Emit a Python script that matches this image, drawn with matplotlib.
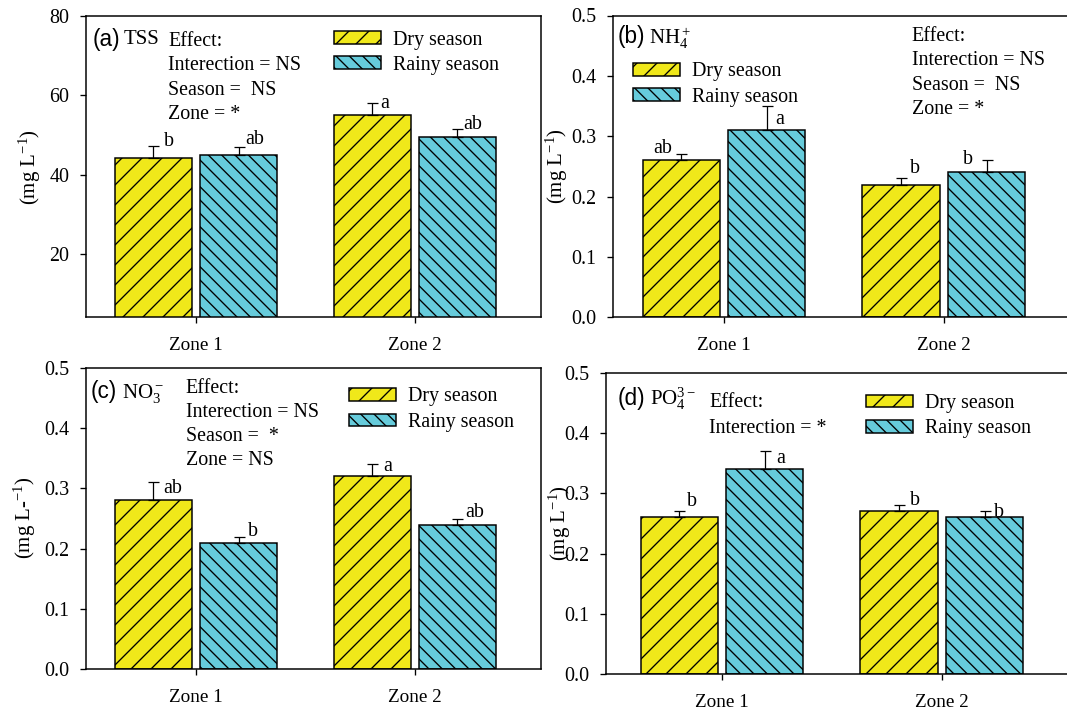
import matplotlib.pyplot as plt
import matplotlib.transforms as mtransforms
import numpy as np

# output size in pixels
W, H, DPI = 1067, 713, 120

zones = ["Zone 1", "Zone 2"]
seasons = ["Dry season", "Rainy season"]

# (a) TSS
tss_dry = [44.3, 55.0]
tss_dry_err = [3.0, 3.1]
tss_rainy = [45.0, 49.5]
tss_rainy_err = [2.0, 1.9]
tss_letters = [["b", "a"], ["ab", "ab"]]

# (b) NH4+
nh4_dry = [0.26, 0.22]
nh4_dry_err = [0.01, 0.01]
nh4_rainy = [0.31, 0.24]
nh4_rainy_err = [0.04, 0.02]
nh4_letters = [["ab", "b"], ["a", "b"]]

# (c) NO3-
no3_dry = [0.28, 0.32]
no3_dry_err = [0.03, 0.02]
no3_rainy = [0.21, 0.24]
no3_rainy_err = [0.01, 0.01]
no3_letters = [["ab", "a"], ["b", "ab"]]

# (d) PO4 3-
po4_dry = [0.26, 0.27]
po4_dry_err = [0.01, 0.01]
po4_rainy = [0.34, 0.26]
po4_rainy_err = [0.03, 0.01]
po4_letters = [["b", "b"], ["a", "b"]]

YELLOW = "#F0E81A"
CYAN = "#66CBDB"

plt.rcParams["font.family"] = ["Liberation Serif", "DejaVu Serif"]
plt.rcParams["mathtext.fontset"] = "custom"
plt.rcParams["mathtext.rm"] = "Liberation Serif"
plt.rcParams["mathtext.it"] = "Liberation Serif:italic"
plt.rcParams["hatch.linewidth"] = 0.8

fig = plt.figure(figsize=(W / DPI, H / DPI), dpi=DPI)
# transform: image pixels measured from the top-left corner
PX = mtransforms.Affine2D().scale(1.0 / W, -1.0 / H).translate(0, 1) + fig.transFigure

panels = [
    dict(tag="(a)", name="TSS", dry=tss_dry, dry_err=tss_dry_err, rainy=tss_rainy,
         rainy_err=tss_rainy_err, letters=tss_letters,
         box=(86, 16, 541, 317.3), xlim=(0.497, 2.577), ylim=(4, 80),
         yticks=[20, 40, 60, 80], yfmt="{:.0f}",
         tag_xy=(92.7, 45.7), name_xy=(123.3, 44.5),
         effect=["Effect:", "Interection = NS", "Season =  NS", "Zone = *"],
         effect_xy=(168.3, 45.7), effect_step=24.5,
         legend_xy=(334, 38.5), ylabel="(mg L$^{-1}$)", ylabel_xy=(30, 167.5),
         offs=[[(10, 0, "left"), (8.5, -5, "left")], [(6.5, 3, "left"), (6, 0, "left")]]),
    dict(tag="(b)", name="NH$_4^+$", dry=nh4_dry, dry_err=nh4_dry_err, rainy=nh4_rainy,
         rainy_err=nh4_rainy_err, letters=nh4_letters,
         box=(613, 15.5, 1070.6, 317.3), xlim=(0.495, 2.577), ylim=(0, 0.5),
         yticks=[0, 0.1, 0.2, 0.3, 0.4, 0.5], yfmt="{:.1f}",
         tag_xy=(617.3, 43.5), name_xy=(649.3, 44.3),
         effect=["Effect:", "Interection = NS", "Season =  NS", "Zone = *"],
         effect_xy=(911.7, 40.7), effect_step=24.4,
         legend_xy=(633.3, 70.2), ylabel="(mg L$^{-1}$)", ylabel_xy=(556.7, 166.5),
         offs=[[(-9, 1, "right"), (9, 5, "left")], [(9, -18, "left"), (-14, -4, "right")]]),
    dict(tag="(c)", name="NO$_3^-$", dry=no3_dry, dry_err=no3_dry_err, rainy=no3_rainy,
         rainy_err=no3_rainy_err, letters=no3_letters,
         box=(86, 367.7, 541, 669.3), xlim=(0.497, 2.577), ylim=(0, 0.5),
         yticks=[0, 0.1, 0.2, 0.3, 0.4, 0.5], yfmt="{:.1f}",
         tag_xy=(90.7, 398.3), name_xy=(121.7, 398.3),
         effect=["Effect:", "Interection = NS", "Season =  *", "Zone = NS"],
         effect_xy=(185.7, 392.7), effect_step=24.1,
         legend_xy=(349, 395.5), ylabel="(mg L-$^{-1}$)", ylabel_xy=(25, 518),
         offs=[[(9.7, -10.6, "left"), (10.6, -7, "left")], [(9.5, 1, "left"), (8, 1, "left")]]),
    dict(tag="(d)", name="PO$_4^{3-}$", dry=po4_dry, dry_err=po4_dry_err, rainy=po4_rainy,
         rainy_err=po4_rainy_err, letters=po4_letters,
         box=(606, 372.7, 1068.7, 674.3), xlim=(0.472, 2.577), ylim=(0, 0.5),
         yticks=[0, 0.1, 0.2, 0.3, 0.4, 0.5], yfmt="{:.1f}",
         tag_xy=(617.3, 405), name_xy=(650, 405),
         effect=["Effect:", "Interection = *"],
         effect_xy=(709, 407.3), effect_step=25.7,
         legend_xy=(865.7, 402), ylabel="(mg L$^{-1}$)", ylabel_xy=(560, 523),
         offs=[[(8, 5, "left"), (11.3, 0, "left")], [(11.7, -11.6, "left"), (9.7, -6, "left")]]),
]

bw = 0.352
off = 0.1945
x = np.arange(1, len(zones) + 1)

for p in panels:
    l, t, r, b = p["box"]
    ax = fig.add_axes([l / W, 1 - b / H, (r - l) / W, (b - t) / H])

    series = [(p["dry"], p["dry_err"], YELLOW, "//", -off, seasons[0]),
              (p["rainy"], p["rainy_err"], CYAN, "\\\\\\", off, seasons[1])]
    for k, (vals, errs, col, hatch, dx, lab) in enumerate(series):
        ax.bar(x + dx, vals, bw, color=col, edgecolor="black", hatch=hatch,
               linewidth=0.9, label=lab)
        ax.errorbar(x + dx, vals, yerr=[np.zeros(len(vals)), errs], fmt="none",
                    ecolor="black", elinewidth=0.75, capsize=3.3, capthick=0.75)
        for i in range(len(vals)):
            ox, oy, ha = p["offs"][k][i]
            ax.annotate(p["letters"][k][i], xy=(x[i] + dx, vals[i] + errs[i]),
                        xytext=(ox, oy), textcoords="offset pixels",
                        ha=ha, va="baseline", fontsize=12)

    ax.set_xlim(*p["xlim"])
    ax.set_ylim(*p["ylim"])
    ax.set_xticks(x)
    ax.set_xticklabels(zones)
    ax.set_yticks(p["yticks"])
    ax.set_yticklabels([p["yfmt"].format(v) for v in p["yticks"]])
    ax.tick_params(direction="out", length=3.5, width=0.8)
    ax.tick_params(axis="y", pad=6.5, labelsize=12)
    ax.tick_params(axis="x", pad=8.5, labelsize=11.5)
    for s in ax.spines.values():
        s.set_linewidth(0.9)

    fig.text(*p["tag_xy"], p["tag"], transform=PX, family="Liberation Sans",
             fontsize=13.5, va="baseline")
    fig.text(*p["name_xy"], p["name"], transform=PX, fontsize=12.5, va="baseline")
    ex, ey = p["effect_xy"]
    for j, line in enumerate(p["effect"]):
        fig.text(ex, ey + j * p["effect_step"], line, transform=PX, fontsize=12,
                 va="baseline")
    fig.text(*p["ylabel_xy"], p["ylabel"], transform=PX, fontsize=12.5, rotation=90,
             ha="center", va="center")

    lx, ly = p["legend_xy"]
    ax.legend(loc="upper left", bbox_to_anchor=(lx, ly - 8), bbox_transform=PX,
              frameon=False, fontsize=12, borderpad=0, borderaxespad=0,
              handlelength=2.35, handleheight=0.6, handletextpad=0.6,
              labelspacing=0.32)

fig.savefig("out.png", dpi=DPI)
